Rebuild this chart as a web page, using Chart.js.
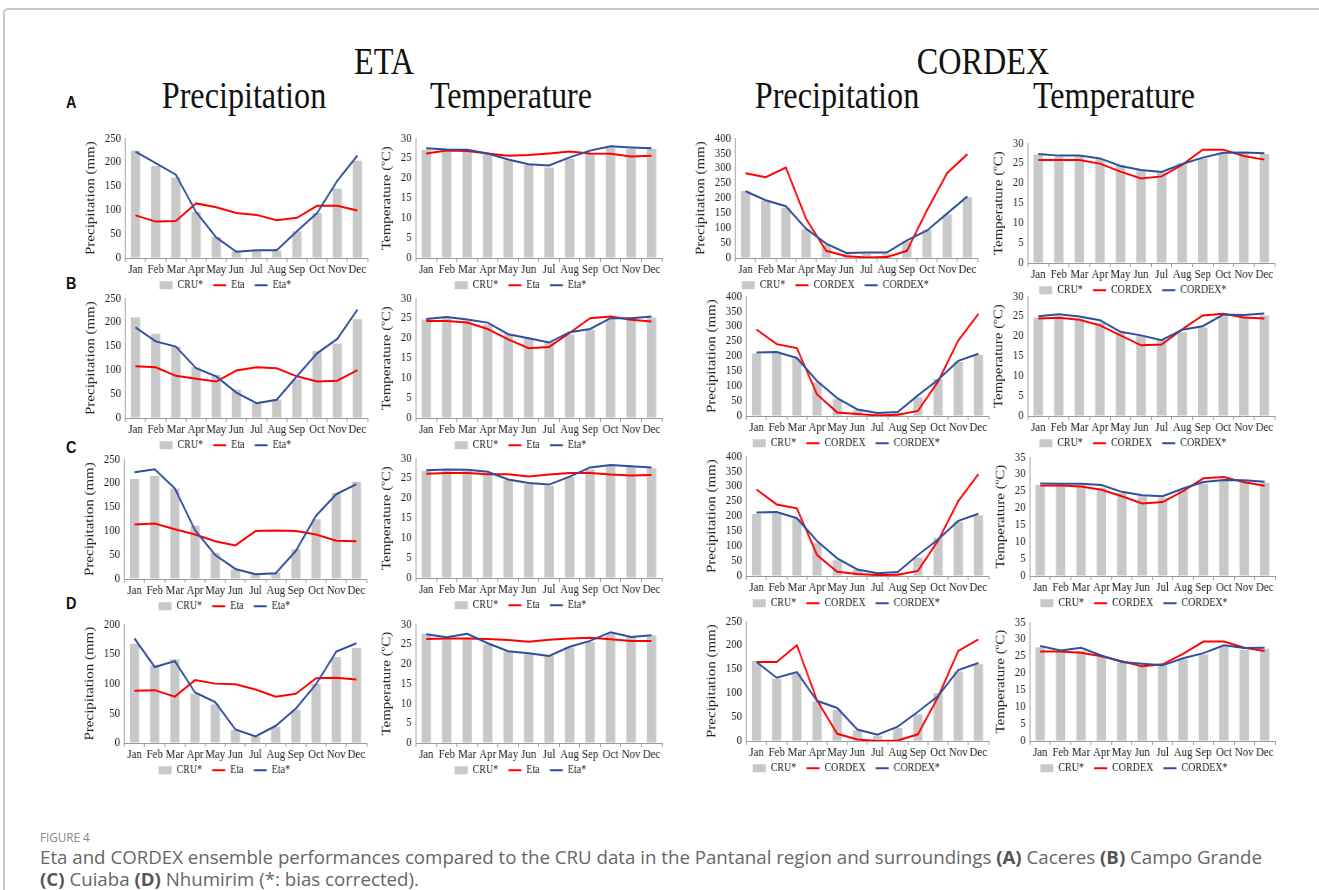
<!DOCTYPE html>
<html><head><meta charset="utf-8">
<script src="https://cdn.jsdelivr.net/npm/chart.js@4.4.1/dist/chart.umd.min.js"></script>
<style>
body{margin:0;background:#fff;width:1319px;height:890px;overflow:hidden;position:relative}
.frame{position:absolute;left:3px;top:8px;width:1400px;height:1000px;border-top:2px solid #c9c9c9;border-left:2px solid #c9c9c9;border-top-left-radius:5px}
.hdr{position:absolute;font-family:'Liberation Serif','Times New Roman',serif;font-size:37px;line-height:1;color:#111;white-space:nowrap;transform:translateX(-50%) scaleX(0.87)}
.lbl{position:absolute;font-family:'Liberation Sans',Arial,sans-serif;font-weight:bold;font-size:17px;line-height:1;color:#111;transform:scaleX(0.85);transform-origin:0 0}
.panel{position:absolute;transform-origin:0 0}
.fig{position:absolute;left:40px;top:828px;font-family:'Open Sans',sans-serif;font-size:13px;color:#888;white-space:nowrap;transform:scaleX(0.9);transform-origin:0 0}
.cap{position:absolute;left:40px;font-family:'Open Sans',sans-serif;font-size:18px;line-height:1;color:#666;white-space:nowrap;transform-origin:0 0}
.cap b{color:#555}
</style></head>
<body>
<div class="frame"></div>
<div class="hdr" style="left:384px;top:43px">ETA</div>
<div class="hdr" style="left:983px;top:43px">CORDEX</div>
<div class="hdr" style="left:244px;top:77px">Precipitation</div>
<div class="hdr" style="left:511px;top:77px">Temperature</div>
<div class="hdr" style="left:837px;top:77px">Precipitation</div>
<div class="hdr" style="left:1114px;top:77px">Temperature</div>
<div class="lbl" style="left:66px;top:94px">A</div>
<div class="lbl" style="left:66px;top:275px">B</div>
<div class="lbl" style="left:66px;top:439px">C</div>
<div class="lbl" style="left:66px;top:595px">D</div>
<div class="fig">FIGURE 4</div>
<div class="cap" id="cap1" style="top:848px">Eta and CORDEX ensemble performances compared to the CRU data in the Pantanal region and surroundings <b>(A)</b> Caceres <b>(B)</b> Campo Grande</div>
<div class="cap" id="cap2" style="top:870px"><b>(C)</b> Cuiaba <b>(D)</b> Nhumirim (*: bias corrected).</div>
<script>
// ---------- DATA ----------
const months = ['Jan','Feb','Mar','Apr','May','Jun','Jul','Aug','Sep','Oct','Nov','Dec'];
const etaNames = ['Eta','Eta*'];
const cordexNames = ['CORDEX','CORDEX*'];
const cruName = 'CRU*';

// Row A - Caceres
const A_prCRU      = [224,192,168,96,44,14,15,15,56,94,145,203];
const A_prEta      = [89,76,77,114,106,94,90,79,84,109,109,99];
const A_prEtaBC    = [222,198,174,96,43,13,16,16,56,94,161,214];
const A_tCRU       = [27.1,26.6,26.7,26.0,24.5,23.3,22.7,24.9,26.2,27.6,27.4,27.3];
const A_tEta       = [26.2,26.9,26.8,26.2,25.6,25.8,26.2,26.7,26.2,26.1,25.4,25.6];
const A_tEtaBC     = [27.5,27.2,27.1,26.2,24.7,23.5,23.2,25.2,26.9,28.0,27.7,27.5];
const A_prCor      = [283,270,302,131,24,6,2,3,24,160,284,347];
const A_prCorBC    = [223,193,173,98,48,17,18,18,59,92,149,206];
const A_tCor       = [25.8,25.8,25.8,24.9,22.9,21.2,21.7,24.6,28.4,28.4,26.8,25.9];
const A_tCorBC     = [27.3,26.9,26.9,26.2,24.3,23.3,22.8,24.8,26.4,27.6,27.7,27.5];

// Row B - Campo Grande
const B_prCRU      = [210,176,149,106,90,59,31,38,81,140,155,206];
const B_prEta      = [108,106,88,82,76,99,106,104,87,76,78,100];
const B_prEtaBC    = [189,160,149,104,87,53,31,38,87,135,165,226];
const B_tCRU       = [24.7,25.0,24.4,23.4,20.9,20.1,19.1,21.0,22.2,25.0,24.9,25.2];
const B_tEta       = [24.3,24.3,23.9,22.3,19.7,17.5,17.8,21.3,25.0,25.4,24.6,24.2];
const B_tEtaBC     = [24.8,25.3,24.7,23.9,21.0,20.0,18.9,21.5,22.3,25.0,25.0,25.4];
const B_prCorCRU   = [209,210,192,113,56,19,8,11,62,124,180,204];
const B_prCor      = [289,240,227,72,12,7,2,4,17,115,252,341];
const B_prCorBC    = [212,214,194,117,60,22,10,13,69,121,184,208];
const B_tCor       = [24.4,24.6,24.1,22.7,20.2,17.7,17.9,21.7,25.2,25.6,24.7,24.4];
const B_tCorBC     = [25.0,25.5,24.9,24.0,21.1,20.2,19.0,21.6,22.5,25.4,25.3,25.7];

// Row C - Cuiaba
const C_prCRU      = [209,215,189,111,55,20,10,13,62,125,180,203];
const C_prEta      = [114,116,104,93,79,70,100,101,100,93,80,79];
const C_prEtaBC    = [223,229,189,102,50,21,10,12,59,132,177,198];
const C_tCRU       = [26.8,26.8,26.8,26.0,24.5,23.5,23.1,25.3,27.2,28.2,27.9,27.5];
const C_tEta       = [26.1,26.3,26.3,26.0,26.0,25.4,25.9,26.3,26.3,25.9,25.7,25.8];
const C_tEtaBC     = [27.0,27.2,27.1,26.6,24.7,23.8,23.4,25.4,27.7,28.3,28.0,27.7];
const C_prCorCRU   = [207,209,190,111,53,20,9,11,62,128,181,203];
const C_prCor      = [289,239,226,70,14,7,3,4,17,118,250,340];
const C_prCorBC    = [212,214,193,117,59,22,9,13,70,122,184,208];
const C_tCor       = [26.7,26.7,26.4,25.4,23.5,21.4,21.8,25.0,28.8,29.2,27.6,26.6];
const C_tCorBC     = [27.3,27.2,27.2,26.8,24.8,23.8,23.5,25.8,27.7,28.3,28.2,27.8];

// Row D - Nhumirim
const D_prCRU      = [167,130,141,83,65,22,11,27,56,100,145,160];
const D_prEta      = [88,89,78,106,100,99,90,78,83,109,110,107];
const D_prEtaBC    = [176,128,138,85,69,23,11,29,58,99,154,168];
const D_tCRU       = [27.6,26.3,26.6,24.9,23.1,22.4,22.1,24.1,25.5,27.8,26.9,27.2];
const D_tEta       = [26.3,26.4,26.4,26.3,26.0,25.6,26.1,26.4,26.6,26.2,25.8,25.8];
const D_tEtaBC     = [27.5,26.7,27.6,25.2,23.2,22.7,22.0,24.3,25.8,28.0,26.8,27.2];
const D_prCor      = [165,165,200,85,15,3,0,1,14,92,188,212];
const D_prCorBC    = [165,132,144,84,69,24,13,30,61,94,148,163];
const D_tCor       = [26.4,26.4,26.0,25.0,23.5,22.0,22.6,25.7,29.3,29.3,27.5,26.5];
const D_tCorBC     = [28.0,26.7,27.5,25.2,23.3,22.8,22.3,24.4,25.9,28.2,27.4,27.5];

// Axis tick settings
const prMaxA = 250, prMaxD = 200, corPrMax = 400, corPrMaxD = 250, tMax = 30, tMax35 = 35;
const prTitle = 'Precipitation (mm)';
const tTitle = 'Temperature (\u00BAC)';

// ---------- STYLE ----------
const SERIF = "'Liberation Serif','Times New Roman',serif";
const GRAY = '#c8c8c8', RED = '#ff0000', BLUE = '#2e4f9c', AX = '#9a9a9a', TXT = '#222';
const K = 0.87; // horizontal squeeze of the original figure

const panels = [
  {area:[125,138,367,258], cru:A_prCRU, raw:A_prEta, bc:A_prEtaBC, names:etaNames, max:prMaxA, step:50, title:prTitle},
  {area:[416,138,662,258], cru:A_tCRU, raw:A_tEta, bc:A_tEtaBC, names:etaNames, max:tMax, step:5, title:tTitle},
  {area:[735,138,977,258], cru:A_prCRU, raw:A_prCor, bc:A_prCorBC, names:cordexNames, max:corPrMax, step:50, title:prTitle},
  {area:[1028,143,1275,263], cru:A_tCRU, raw:A_tCor, bc:A_tCorBC, names:cordexNames, max:tMax, step:5, title:tTitle},

  {area:[125,298,367,418], cru:B_prCRU, raw:B_prEta, bc:B_prEtaBC, names:etaNames, max:prMaxA, step:50, title:prTitle},
  {area:[416,298,662,418], cru:B_tCRU, raw:B_tEta, bc:B_tEtaBC, names:etaNames, max:tMax, step:5, title:tTitle},
  {area:[746,296,988,416], cru:B_prCorCRU, raw:B_prCor, bc:B_prCorBC, names:cordexNames, max:corPrMax, step:50, title:prTitle},
  {area:[1028,296,1275,416], cru:B_tCRU, raw:B_tCor, bc:B_tCorBC, names:cordexNames, max:tMax, step:5, title:tTitle},

  {area:[124,459,366,579], cru:C_prCRU, raw:C_prEta, bc:C_prEtaBC, names:etaNames, max:prMaxA, step:50, title:prTitle},
  {area:[416,458,662,578], cru:C_tCRU, raw:C_tEta, bc:C_tEtaBC, names:etaNames, max:tMax, step:5, title:tTitle},
  {area:[746,456,988,576], cru:C_prCorCRU, raw:C_prCor, bc:C_prCorBC, names:cordexNames, max:corPrMax, step:50, title:prTitle},
  {area:[1030,457,1275,576], cru:C_tCRU, raw:C_tCor, bc:C_tCorBC, names:cordexNames, max:tMax35, step:5, title:tTitle},

  {area:[124,624,366,743], cru:D_prCRU, raw:D_prEta, bc:D_prEtaBC, names:etaNames, max:prMaxD, step:50, title:prTitle},
  {area:[416,624,662,743], cru:D_tCRU, raw:D_tEta, bc:D_tEtaBC, names:etaNames, max:tMax, step:5, title:tTitle},
  {area:[746,621,988,741], cru:D_prCRU, raw:D_prCor, bc:D_prCorBC, names:cordexNames, max:corPrMaxD, step:50, title:prTitle},
  {area:[1030,622,1275,741], cru:D_tCRU, raw:D_tCor, bc:D_tCorBC, names:cordexNames, max:tMax35, step:5, title:tTitle}
];

const GAP = ['\u2002\u00A0','\u2002\u00A0',''];

function config(p){
  return {
    type:'bar',
    data:{labels:months, datasets:[
      {type:'bar', label:cruName, data:p.cru, backgroundColor:GRAY, barPercentage:0.46, categoryPercentage:1, order:3},
      {type:'line', label:p.names[0], data:p.raw, borderColor:RED, backgroundColor:RED, borderWidth:2, pointRadius:0, tension:0, fill:false, order:2},
      {type:'line', label:p.names[1], data:p.bc, borderColor:BLUE, backgroundColor:BLUE, borderWidth:2, pointRadius:0, tension:0, fill:false, order:1}
    ]},
    options:{
      responsive:false, animation:false, events:[],
      layout:{padding:{left:0,right:2,top:6,bottom:0}},
      plugins:{
        tooltip:{enabled:false},
        legend:{position:'bottom', labels:{
          usePointStyle:true, pointStyleWidth:15, boxHeight:8, padding:3, color:TXT,
          font:{family:SERIF,size:11.5},
          generateLabels:(chart)=>chart.data.datasets.map((d,i)=>({
            text:d.label+GAP[i], fillStyle:i===0?GRAY:d.borderColor, strokeStyle:i===0?GRAY:d.borderColor,
            lineWidth:i===0?0:2, pointStyle:i===0?'rect':'line', hidden:false, datasetIndex:i, fontColor:TXT
          }))
        }}
      },
      scales:{
        x:{
          grid:{display:true, drawOnChartArea:false, drawTicks:true, tickLength:4, color:AX, offset:true},
          border:{display:true, color:AX, width:1},
          ticks:{autoSkip:false, maxRotation:0, minRotation:0, padding:1, color:TXT, font:{family:SERIF,size:12.5,lineHeight:1}}
        },
        y:{
          min:0, max:p.max,
          grid:{display:true, drawOnChartArea:false, drawTicks:false, color:AX},
          border:{display:true, color:AX, width:1},
          ticks:{stepSize:p.step, autoSkip:false, padding:5, color:TXT, font:{family:SERIF,size:12.5,lineHeight:1}},
          title:{display:true, text:p.title, color:TXT, font:{family:SERIF,size:15}, padding:{top:0,bottom:2}}
        }
      }
    }
  };
}

function makePanel(p){
  const [l,t,r,b] = p.area;
  const wantW = (r-l)/K, wantH = (b-t);
  const div = document.createElement('div'); div.className='panel'; document.body.appendChild(div);
  let W = wantW+85, H = wantH+55;
  let cv = document.createElement('canvas');
  cv.width=Math.round(W); cv.height=Math.round(H); cv.style.width=Math.round(W)+'px'; cv.style.height=Math.round(H)+'px';
  div.appendChild(cv);
  let ch = new Chart(cv, config(p));
  let ca = ch.chartArea;
  W = W + (wantW - (ca.right-ca.left));
  H = H + (wantH - (ca.bottom-ca.top));
  ch.destroy(); div.removeChild(cv);
  cv = document.createElement('canvas');
  cv.width=Math.round(W); cv.height=Math.round(H); cv.style.width=Math.round(W)+'px'; cv.style.height=Math.round(H)+'px';
  div.appendChild(cv);
  ch = new Chart(cv, config(p));
  ca = ch.chartArea;
  div.style.transform = 'scaleX('+K+')';
  div.style.left = (l - K*ca.left)+'px';
  div.style.top = (t - ca.top)+'px';
}
panels.forEach(makePanel);

// fit caption line 1 to its width in the figure
const c1 = document.getElementById('cap1');
const w1 = c1.getBoundingClientRect().width;
const s = 1222 / w1;
c1.style.transform = 'scaleX('+s+')';
document.getElementById('cap2').style.transform = 'scaleX('+s+')';
</script>
</body></html>
